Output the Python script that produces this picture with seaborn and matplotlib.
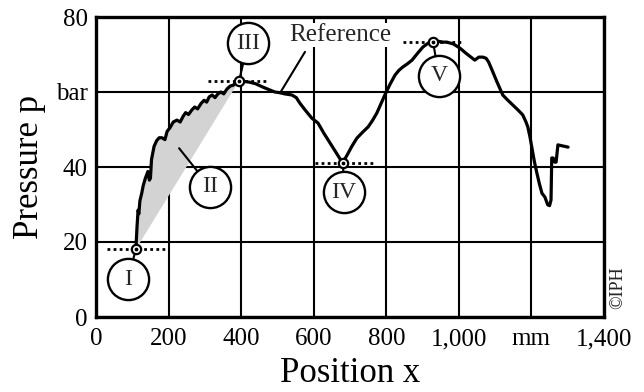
import numpy as np
import pandas as pd
import matplotlib
matplotlib.use("Agg")
import matplotlib.pyplot as plt
import seaborn as sns

# ---- data ----
pos_x = [110, 113, 116, 118, 121, 126, 130, 136, 143, 147, 150, 153, 160, 167, 174, 182, 190, 196,
         204, 213, 223, 232, 240, 247, 255, 264, 272, 280, 290, 298, 305, 312, 320, 328, 336, 344,
         352, 361, 370, 378, 386, 394,
         410, 424, 440, 460, 480, 493, 507, 520, 540, 552, 562, 578, 595, 612, 628, 645, 662, 678,
         681, 688, 695, 705, 719, 735, 750, 762, 774, 785, 796, 810, 824, 835, 846, 858, 871, 886,
         901, 915, 929, 945, 957, 967, 985, 1003, 1020, 1044, 1055, 1066, 1075, 1082, 1093, 1105,
         1121, 1135, 1149, 1163, 1176, 1185, 1190, 1196, 1201, 1208, 1215, 1222, 1229, 1237, 1245,
         1250, 1254, 1256, 1260, 1264, 1268, 1273, 1287, 1301]
pressure = [18.1, 24, 28.5, 27.5, 31, 33, 35, 37, 38.8, 36.5, 37, 42, 45.5, 47, 47.8, 47.8, 47.3, 49.5,
            50.5, 52, 52.5, 52, 53.5, 54.5, 54, 55.2, 56, 55.5, 57, 57.8, 57.3, 58.7, 59.2, 58.5, 59.5, 60,
            59.5, 60.8, 61.6, 61.8, 62.5, 62.9,
            62.8, 62.6, 62.2, 61.3, 60.5, 60, 59.8, 59.5, 59.2, 58.5, 57, 55, 53, 51.7, 49, 46.4, 43.8, 41.3,
            41, 42.5, 43.7, 45.5, 47.7, 49.3, 50.7, 52.4, 54.4, 56.8, 59.2, 62, 64.5, 65.8, 66.7, 67.5, 68.5, 70.3,
            72, 73, 73.3, 73.5, 73.3, 73.3, 72.8, 71.7, 70.3, 68.5, 69.3, 69.3, 69, 68, 65.5, 62.7,
            59.2, 57.8, 56.5, 55.2, 53.9, 52, 50.7, 48, 45.3, 41.5, 38.4, 35.5, 33, 32, 29.9,
            29.7, 31.2, 42.4, 42.4, 41.3, 41.3, 45.9, 45.6, 45.3]

# marked points I, III, IV, V
mark_names = ["I", "III", "IV", "V"]
mark_x = [110, 394, 681, 929]
mark_y = [18.1, 62.9, 41, 73.3]
# dotted level lines (x start, x end) per marked point
level_x0 = [30, 309, 604, 846]
level_x1 = [196, 471, 764, 1009]

# circled labels
label_names = ["I", "II", "III", "IV", "V"]
label_x = [88, 314, 419, 683, 945]
label_y = [10.1, 34.7, 73.0, 33.3, 64.3]
anchor_x = [110, 229, 394, 681, 929]
anchor_y = [18.1, 45.0, 62.9, 41, 73.3]

# "Reference" annotation
ref_text = "Reference"
ref_text_xy = (672, 75.2)
ref_line_x = [576, 507]
ref_line_y = [70.7, 59.7]

x_ticks = [0, 200, 400, 600, 800, 1000, 1200, 1400]
x_ticklabels = ["0", "200", "400", "600", "800", "1,000", "mm", "1,400"]
y_ticks = [0, 20, 40, 60, 80]
y_ticklabels = ["0", "20", "40", "bar", "80"]

# ---- style ----
sns.set_theme(style="white")
plt.rcParams["font.family"] = ["Liberation Serif", "DejaVu Serif"]

fig = plt.figure(figsize=(6.44, 3.92), dpi=100)
ax = fig.add_axes([96 / 644, (392 - 317) / 392, 508 / 644, 300 / 392])

df = pd.DataFrame({"x": pos_x, "p": pressure})

# shaded region II between curve and chord I-III
i3 = pos_x.index(394)
ax.fill(pos_x[: i3 + 1], pressure[: i3 + 1], color="#d3d3d3", lw=0, zorder=1)

sns.lineplot(data=df, x="x", y="p", sort=False, ax=ax, color="black", lw=2.3, zorder=4)

# dotted level lines
for x0, x1, y in zip(level_x0, level_x1, mark_y):
    ax.plot([x0, x1], [y, y], color="black", lw=2.0, ls=(0, (1, 1.2)), zorder=3)

# connector lines
for lx, ly, axx, ayy in zip(label_x, label_y, anchor_x, anchor_y):
    ax.plot([lx, axx], [ly, ayy], color="black", lw=1.5, zorder=5)
ax.plot(ref_line_x, ref_line_y, color="black", lw=1.5, zorder=5)

# marker circles with dot
ax.scatter(mark_x, mark_y, s=45, facecolor="white", edgecolor="black", linewidth=1.6, zorder=6)
ax.scatter(mark_x, mark_y, s=3, color="black", zorder=7)

# circled labels
ax.scatter(label_x, label_y, s=880, facecolor="white", edgecolor="black", linewidth=1.7, zorder=8)
for name, lx, ly in zip(label_names, label_x, label_y):
    ax.text(lx, ly, name, ha="center", va="center", fontsize=17, zorder=9)

ax.text(ref_text_xy[0], ref_text_xy[1], ref_text, fontsize=18, ha="center", va="center", zorder=9,
        bbox=dict(facecolor="white", edgecolor="none", pad=0.5))

ax.set_xlim(0, 1400)
ax.set_ylim(0, 80)
ax.set_xticks(x_ticks)
ax.set_xticklabels(x_ticklabels)
ax.set_yticks(y_ticks)
ax.set_yticklabels(y_ticklabels)
ax.tick_params(axis="both", length=0, labelsize=18, colors="black")
ax.tick_params(axis="x", pad=8)
ax.tick_params(axis="y", pad=6)
ax.grid(True, color="black", lw=1.5, zorder=2)
ax.set_axisbelow(True)
for s in ax.spines.values():
    s.set_color("black")
    s.set_linewidth(2.4)
    s.set_zorder(10)

ax.set_xlabel("Position x", fontsize=25, color="black", labelpad=5)
ax.set_ylabel("Pressure p", fontsize=25, color="black", labelpad=7)

fig.text(618 / 644, 1 - 288 / 392, "©IPH", rotation=90, fontsize=13, ha="center", va="center")

fig.savefig("out.png", dpi=100)
